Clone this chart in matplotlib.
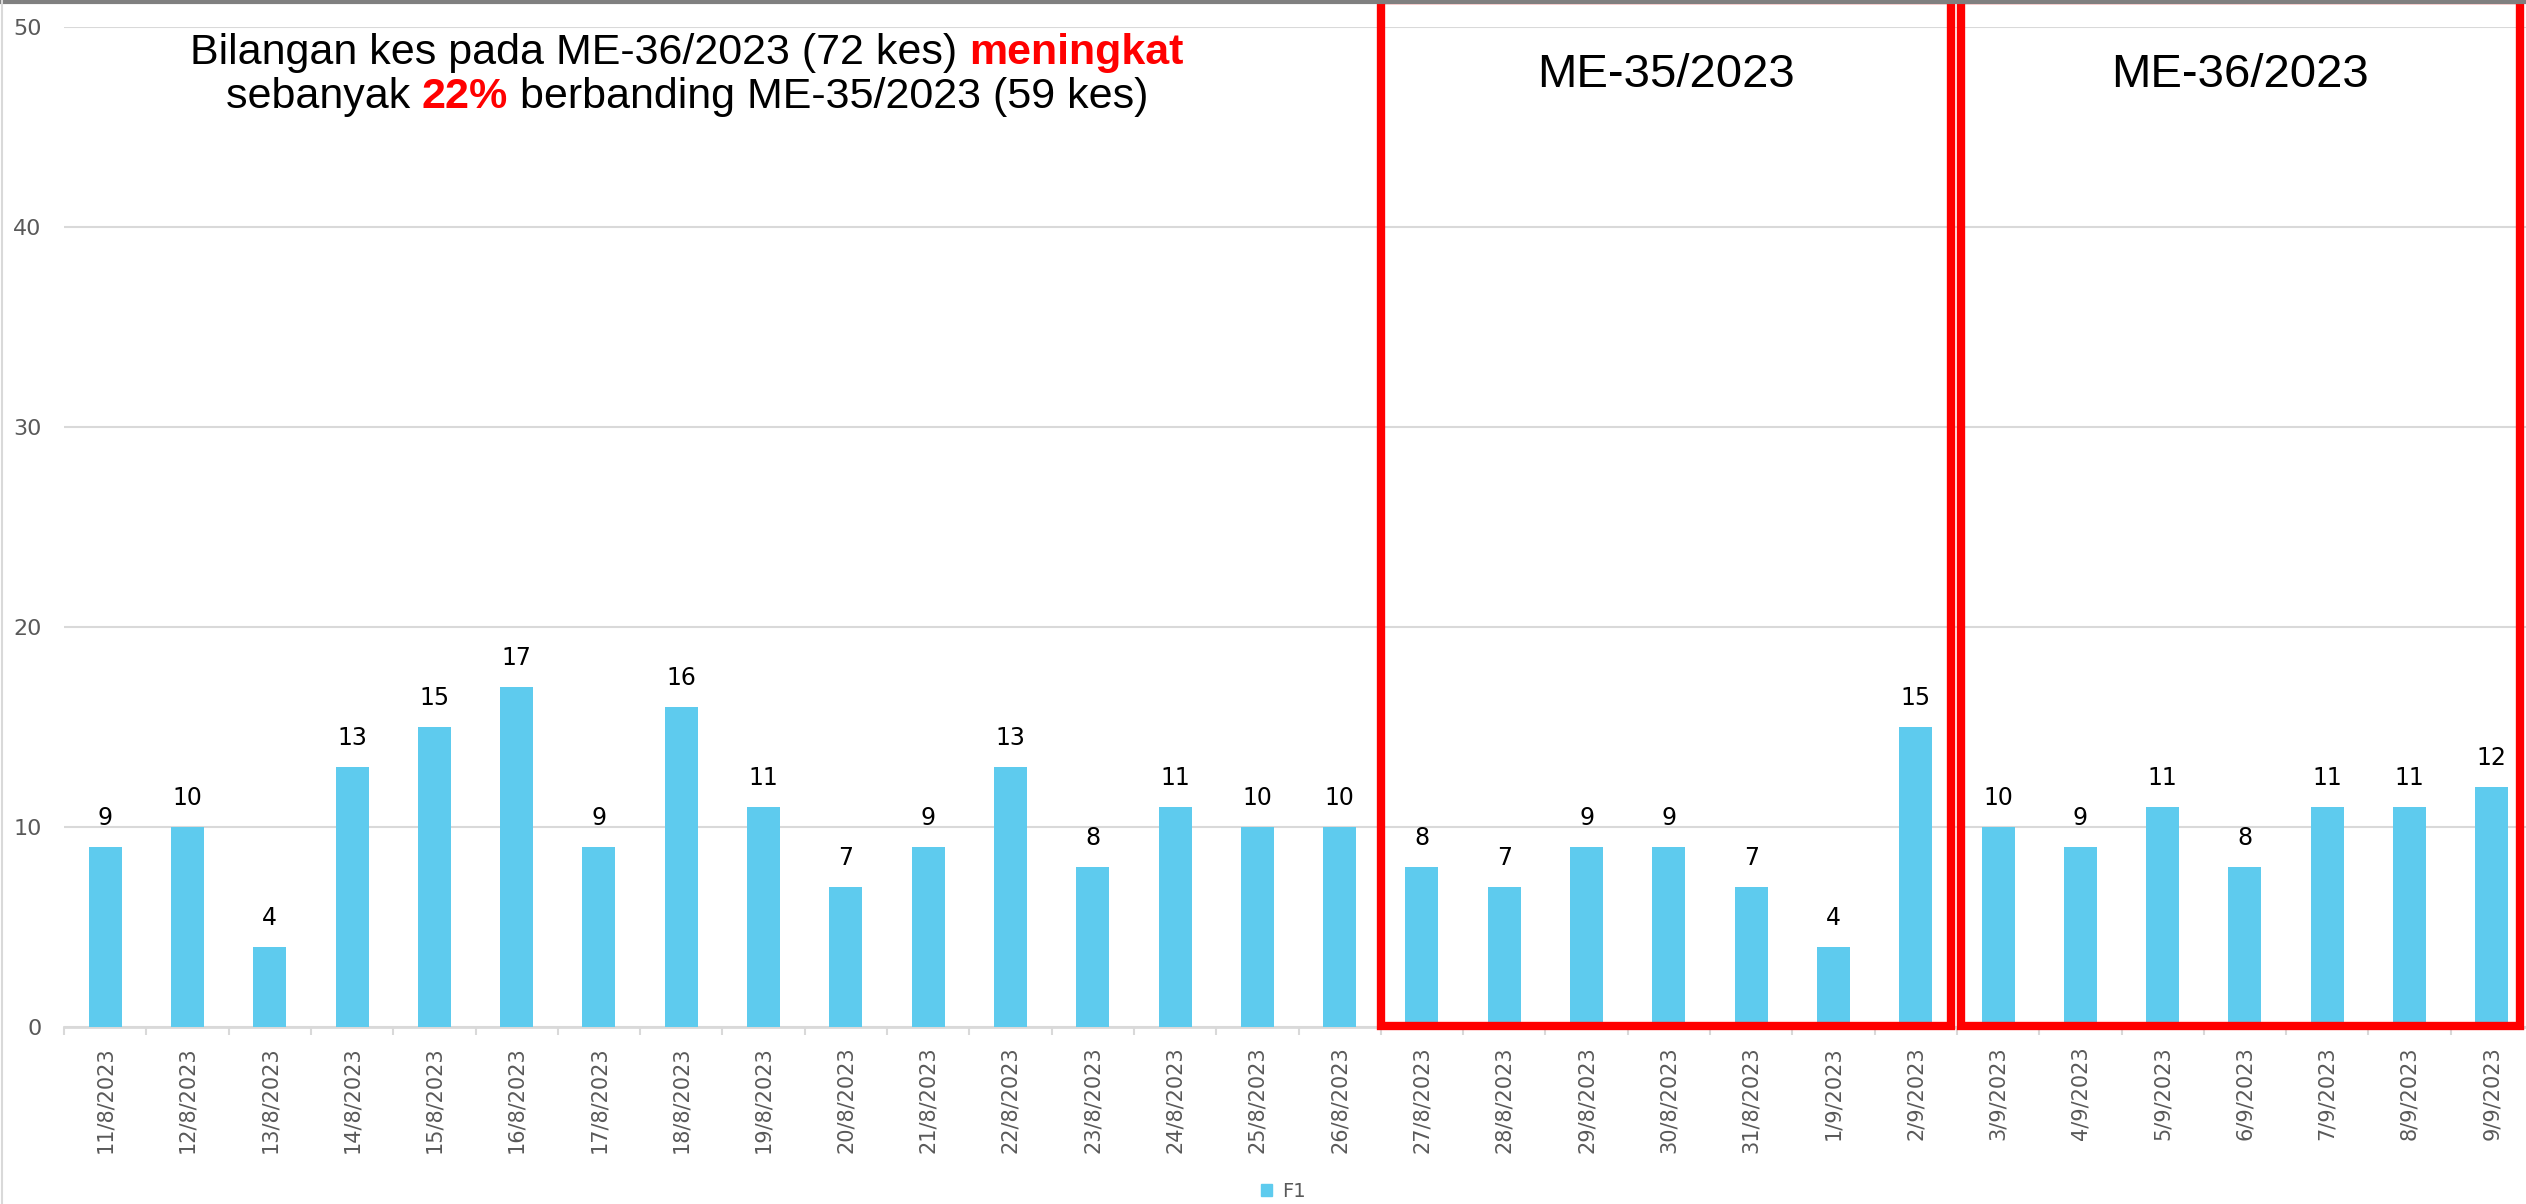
import matplotlib
matplotlib.use("Agg")
import matplotlib.pyplot as plt
from matplotlib.patches import Rectangle, Patch
from matplotlib.lines import Line2D

# daily case counts
dates = [
    "11/8/2023", "12/8/2023", "13/8/2023", "14/8/2023", "15/8/2023", "16/8/2023",
    "17/8/2023", "18/8/2023", "19/8/2023", "20/8/2023", "21/8/2023", "22/8/2023",
    "23/8/2023", "24/8/2023", "25/8/2023", "26/8/2023", "27/8/2023", "28/8/2023",
    "29/8/2023", "30/8/2023", "31/8/2023", "1/9/2023", "2/9/2023", "3/9/2023",
    "4/9/2023", "5/9/2023", "6/9/2023", "7/9/2023", "8/9/2023", "9/9/2023",
]
cases = [9, 10, 4, 13, 15, 17, 9, 16, 11, 7, 9, 13, 8, 11, 10, 10,
         8, 7, 9, 9, 7, 4, 15,
         10, 9, 11, 8, 11, 11, 12]
series_name = "F1"

# epi weeks highlighted with red boxes: (label, first day, last day)
weeks = [("ME-35/2023", "27/8/2023", "2/9/2023"),
         ("ME-36/2023", "3/9/2023", "9/9/2023")]

headline = [
    [("Bilangan kes pada ME-36/2023 (72 kes) ", "black", "normal"),
     ("meningkat", "#ff0000", "bold")],
    [("sebanyak ", "black", "normal"),
     ("22%", "#ff0000", "bold"),
     (" berbanding ME-35/2023 (59 kes)", "black", "normal")],
]

W, H = 2526, 1204
BAR = "#5ecbee"
GRID = "#d9d9d9"
TICK = "#595959"
HEAD_FONT = ["Liberation Sans", "DejaVu Sans"]

fig = plt.figure(figsize=(W / 100, H / 100), dpi=100)
ax = fig.add_axes([64 / W, (H - 1027) / H, 2469 / W, 1000 / H])

x = list(range(len(dates)))
bars = ax.bar(x, cases, width=0.4, color=BAR, zorder=3)
ax.bar_label(bars, padding=12, fontsize=17, color="black")

ax.set_xlim(-0.5, len(dates) - 0.5)
ax.set_ylim(0, 50)
ax.set_yticks(range(0, 51, 10))
ax.grid(axis="y", color=GRID, lw=1.5, zorder=0)
ax.set_axisbelow(True)

ax.set_xticks(x)
ax.set_xticklabels(dates, rotation=90, fontsize=15, color=TICK)
ax.set_xticks([i - 0.5 for i in range(len(dates) + 1)], minor=True)
ax.tick_params(axis="x", which="major", length=0, pad=14)
ax.tick_params(axis="x", which="minor", length=6, width=1.5, color=GRID)
ax.tick_params(axis="y", length=0, pad=16, labelsize=16, labelcolor=TICK)

for side in ["left", "right", "top"]:
    ax.spines[side].set_visible(False)
ax.spines["bottom"].set_color(GRID)
ax.spines["bottom"].set_linewidth(2)

# red boxes around the two weeks (hand drawn in the original, so uneven margins)
box_pads = [(0.5, 0.43), (0.45, 0.34)]
for (label, first, last), (pl, pr) in zip(weeks, box_pads):
    i0, i1 = dates.index(first), dates.index(last)
    rect = Rectangle((i0 - pl, 0.05), i1 - i0 + pl + pr, 51.3, fill=False,
                     edgecolor="#ff0000", lw=6, clip_on=False, zorder=5)
    ax.add_patch(rect)
    ax.text((i0 - pl + i1 + pr) / 2, 47.6, label, ha="center", va="center",
            fontsize=34, family=HEAD_FONT, color="black")


def draw_line(parts, cx, cy, size):
    renderer = fig.canvas.get_renderer()
    texts = []
    for s, color, weight in parts:
        t = fig.text(0, 0, s, color=color, fontweight=weight, fontsize=size,
                     family=HEAD_FONT, va="center", ha="left")
        texts.append(t)
    widths = [t.get_window_extent(renderer).width for t in texts]
    pos = cx - sum(widths) / 2
    for t, w in zip(texts, widths):
        t.set_position((pos / W, 1 - cy / H))
        pos += w


draw_line(headline[0], 687, 53, 31)
draw_line(headline[1], 687, 97, 31)

# frame bits of the original slide
fig.add_artist(Line2D([0, 1], [1 - 1.5 / H, 1 - 1.5 / H], color="#808080", lw=3))
fig.add_artist(Line2D([2 / W, 2 / W], [0, 1], color=GRID, lw=1.5))

fig.legend(handles=[Patch(color=BAR, label=series_name)], loc="lower center",
           bbox_to_anchor=(0.508, -0.012), frameon=False, fontsize=14,
           handlelength=0.6, handleheight=0.6, handletextpad=0.5,
           labelcolor=TICK)

fig.savefig("out.png", dpi=100)
